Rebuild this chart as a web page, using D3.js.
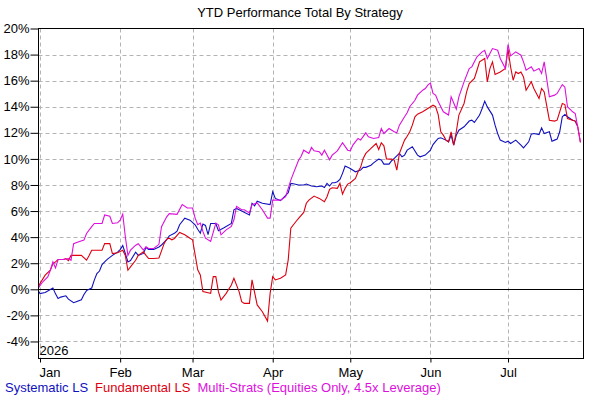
<!DOCTYPE html>
<html><head><meta charset="utf-8">
<script src="https://cdn.jsdelivr.net/npm/d3@7/dist/d3.min.js"></script>
<style>
body{margin:0;background:#fff;}
svg{display:block;font-family:"Liberation Sans",Arial,sans-serif;}
</style></head><body>
<svg id="c" width="600" height="400"></svg>
<script>
const title = "YTD Performance Total By Strategy";
const yearLabel = "2026";
const seriesNames = ["Systematic LS", "Fundamental LS", "Multi-Strats (Equities Only, 4.5x Leverage)"];
const seriesColors = ["#1010c0", "#dd0010", "#dd10dd"];
const yTicks = [-4,-2,0,2,4,6,8,10,12,14,16,18,20];
const monthTicks = ["2026-01-01","2026-02-01","2026-03-01","2026-04-01","2026-05-01","2026-06-01","2026-07-01"];
const monthLabels = ["Jan","Feb","Mar","Apr","May","Jun","Jul"];

const systematicLS = [
["2025-12-31",0],["2026-01-01",-0.33],["2026-01-03",-0.25],["2026-01-06",0.1],["2026-01-07",-0.35],["2026-01-08",-0.7],["2026-01-09",-0.6],["2026-01-11",-0.5],["2026-01-12",-0.75],["2026-01-14",-1.03],["2026-01-15",-0.95],["2026-01-17",-0.8],["2026-01-18",-0.4],["2026-01-19",-0.1],["2026-01-20",0],["2026-01-21",0.1],["2026-01-22",0.7],["2026-01-23",1.2],["2026-01-24",1.4],["2026-01-25",1.9],["2026-01-26",2.1],["2026-01-27",2.3],["2026-01-29",2.6],["2026-01-31",2.85],["2026-02-01",3.05],["2026-02-02",3.35],["2026-02-03",2.75],["2026-02-04",2.1],["2026-02-05",2.2],["2026-02-07",2.85],["2026-02-08",2.6],["2026-02-10",2.75],["2026-02-11",3.2],["2026-02-12",3.05],["2026-02-14",3.05],["2026-02-16",3.25],["2026-02-17",3.4],["2026-02-19",3.8],["2026-02-20",4.1],["2026-02-22",4.3],["2026-02-23",4.45],["2026-02-24",4.95],["2026-02-26",5.45],["2026-02-28",5.3],["2026-03-02",4.95],["2026-03-03",4.6],["2026-03-04",4.3],["2026-03-05",5.0],["2026-03-06",4.9],["2026-03-07",4.2],["2026-03-08",5.05],["2026-03-10",5.05],["2026-03-11",4.5],["2026-03-13",4.7],["2026-03-16",5.05],["2026-03-17",6.1],["2026-03-18",6.2],["2026-03-20",6.0],["2026-03-23",5.7],["2026-03-24",6.6],["2026-03-25",6.4],["2026-03-26",6.75],["2026-03-28",6.6],["2026-03-31",6.5],["2026-04-01",7.48],["2026-04-02",6.97],["2026-04-04",6.8],["2026-04-05",7.0],["2026-04-07",7.4],["2026-04-08",8.12],["2026-04-09",8.1],["2026-04-11",8.0],["2026-04-13",8.0],["2026-04-14",8.07],["2026-04-16",7.92],["2026-04-18",7.86],["2026-04-20",7.92],["2026-04-21",7.81],["2026-04-22",8.12],["2026-04-23",7.92],["2026-04-24",8.17],["2026-04-25",8.17],["2026-04-26",8.25],["2026-04-27",8.43],["2026-04-28",8.89],["2026-04-29",9.45],["2026-05-01",9.27],["2026-05-03",9.01],["2026-05-05",9.14],["2026-05-06",9.35],["2026-05-07",9.35],["2026-05-09",9.52],["2026-05-10",9.70],["2026-05-12",9.98],["2026-05-13",9.91],["2026-05-14",9.60],["2026-05-16",9.60],["2026-05-17",9.86],["2026-05-18",10.04],["2026-05-20",10.42],["2026-05-21",10.16],["2026-05-22",10.29],["2026-05-23",10.67],["2026-05-25",10.93],["2026-05-27",10.29],["2026-05-28",10.16],["2026-05-30",10.29],["2026-06-01",10.67],["2026-06-02",11.1],["2026-06-03",11.35],["2026-06-04",11.57],["2026-06-05",11.62],["2026-06-07",11.44],["2026-06-08",11.31],["2026-06-09",11.82],["2026-06-10",11.05],["2026-06-11",11.82],["2026-06-12",12.2],["2026-06-14",12.46],["2026-06-16",12.9],["2026-06-17",12.97],["2026-06-18",12.79],["2026-06-20",13.36],["2026-06-21",13.87],["2026-06-22",14.43],["2026-06-23",13.99],["2026-06-25",13.36],["2026-06-26",12.59],["2026-06-27",11.95],["2026-06-28",11.44],["2026-06-30",11.26],["2026-07-01",11.36],["2026-07-02",11.18],["2026-07-04",11.44],["2026-07-06",11.05],["2026-07-07",10.85],["2026-07-09",11.31],["2026-07-10",11.9],["2026-07-11",11.95],["2026-07-13",11.87],["2026-07-14",12.38],["2026-07-15",11.95],["2026-07-17",12.08],["2026-07-18",11.36],["2026-07-19",11.44],["2026-07-20",11.52],["2026-07-21",12.08],["2026-07-22",13.23],["2026-07-23",13.41],["2026-07-24",13.23],["2026-07-26",12.97],["2026-07-27",12.9],["2026-07-28",12.5]
];

const fundamentalLS = [
["2025-12-31",0],["2026-01-01",0.44],["2026-01-03",1.08],["2026-01-05",1.46],["2026-01-06",1.97],["2026-01-07",2.1],["2026-01-08",2.28],["2026-01-10",2.28],["2026-01-11",2.36],["2026-01-12",2.2],["2026-01-13",2.6],["2026-01-15",2.6],["2026-01-17",2.6],["2026-01-19",2.23],["2026-01-20",2.6],["2026-01-21",3.0],["2026-01-24",3.0],["2026-01-25",3.0],["2026-01-26",3.5],["2026-01-28",3.5],["2026-01-29",2.74],["2026-01-31",2.8],["2026-02-02",3.0],["2026-02-03",2.6],["2026-02-04",1.46],["2026-02-05",1.72],["2026-02-07",2.23],["2026-02-08",2.6],["2026-02-10",2.87],["2026-02-11",2.6],["2026-02-12",2.36],["2026-02-14",2.36],["2026-02-16",2.4],["2026-02-18",3.5],["2026-02-19",3.85],["2026-02-20",3.92],["2026-02-21",3.8],["2026-02-22",3.9],["2026-02-24",4.36],["2026-02-26",4.18],["2026-02-28",3.92],["2026-03-01",3.8],["2026-03-03",1.49],["2026-03-04",1.1],["2026-03-05",-0.18],["2026-03-07",-0.26],["2026-03-08",-0.31],["2026-03-09",0.97],["2026-03-10",0.97],["2026-03-11",-0.18],["2026-03-12",-0.82],["2026-03-14",-0.31],["2026-03-16",0.33],["2026-03-17",0.85],["2026-03-19",-0.18],["2026-03-20",-0.95],["2026-03-21",-1.08],["2026-03-23",-1.08],["2026-03-24",0.72],["2026-03-26",-1.2],["2026-03-28",-1.72],["2026-03-30",-2.44],["2026-03-31",-0.31],["2026-04-01",0.97],["2026-04-02",0.72],["2026-04-04",0.85],["2026-04-06",1.1],["2026-04-07",2.26],["2026-04-08",4.69],["2026-04-10",5.2],["2026-04-11",5.44],["2026-04-13",5.9],["2026-04-14",6.6],["2026-04-15",6.84],["2026-04-17",7.15],["2026-04-18",7.05],["2026-04-19",6.97],["2026-04-21",6.71],["2026-04-22",7.10],["2026-04-23",7.66],["2026-04-24",7.79],["2026-04-26",7.74],["2026-04-27",8.12],["2026-04-28",7.30],["2026-04-29",7.74],["2026-04-30",8.07],["2026-05-01",8.17],["2026-05-03",8.50],["2026-05-04",9.01],["2026-05-05",9.35],["2026-05-06",10.04],["2026-05-07",10.42],["2026-05-09",10.80],["2026-05-11",11.18],["2026-05-12",10.72],["2026-05-13",11.24],["2026-05-14",11.0],["2026-05-15",10.0],["2026-05-17",9.98],["2026-05-18",9.91],["2026-05-19",9.14],["2026-05-20",10.42],["2026-05-22",11.44],["2026-05-23",11.74],["2026-05-24",12.08],["2026-05-25",12.59],["2026-05-26",13.23],["2026-05-27",13.43],["2026-05-29",13.61],["2026-05-31",13.87],["2026-06-02",14.12],["2026-06-03",14.0],["2026-06-04",13.4],["2026-06-05",12.08],["2026-06-06",11.82],["2026-06-07",11.44],["2026-06-08",11.31],["2026-06-09",12.08],["2026-06-10",11.05],["2026-06-11",12.08],["2026-06-12",13.36],["2026-06-14",14.25],["2026-06-15",15.14],["2026-06-16",15.78],["2026-06-18",16.17],["2026-06-19",16.80],["2026-06-20",17.44],["2026-06-22",17.70],["2026-06-23",15.9],["2026-06-24",16.93],["2026-06-25",17.44],["2026-06-26",16.47],["2026-06-28",16.67],["2026-06-30",16.93],["2026-07-01",18.41],["2026-07-02",17.06],["2026-07-03",16.03],["2026-07-04",16.67],["2026-07-05",16.55],["2026-07-06",16.67],["2026-07-07",16.29],["2026-07-08",15.27],["2026-07-10",15.91],["2026-07-11",15.4],["2026-07-13",14.63],["2026-07-14",15.40],["2026-07-15",15.14],["2026-07-17",12.97],["2026-07-19",12.90],["2026-07-20",12.97],["2026-07-22",14.25],["2026-07-23",14.17],["2026-07-24",13.10],["2026-07-26",12.97],["2026-07-27",12.90],["2026-07-28",12.46],["2026-07-29",11.26]
];

const multiStrats = [
["2025-12-31",0],["2026-01-02",0.56],["2026-01-04",0.95],["2026-01-05",1.46],["2026-01-06",2.1],["2026-01-07",1.64],["2026-01-08",2.28],["2026-01-10",2.28],["2026-01-12",2.36],["2026-01-13",2.23],["2026-01-14",3.5],["2026-01-16",3.64],["2026-01-18",3.77],["2026-01-19",4.28],["2026-01-21",4.8],["2026-01-22",5.05],["2026-01-24",5.05],["2026-01-25",5.05],["2026-01-26",5.7],["2026-01-28",5.6],["2026-01-29",5.05],["2026-01-31",5.1],["2026-02-01",5.3],["2026-02-02",5.77],["2026-02-03",4.03],["2026-02-04",2.6],["2026-02-05",3.0],["2026-02-07",3.38],["2026-02-08",3.5],["2026-02-10",3.0],["2026-02-11",3.26],["2026-02-12",3.13],["2026-02-14",3.13],["2026-02-16",3.45],["2026-02-17",4.8],["2026-02-19",5.56],["2026-02-20",5.8],["2026-02-23",5.75],["2026-02-25",6.5],["2026-02-27",6.23],["2026-03-01",6.23],["2026-03-02",5.46],["2026-03-03",4.95],["2026-03-04",5.08],["2026-03-05",4.44],["2026-03-06",3.92],["2026-03-08",3.67],["2026-03-10",5.08],["2026-03-11",4.95],["2026-03-12",4.18],["2026-03-14",4.56],["2026-03-16",4.82],["2026-03-17",5.33],["2026-03-18",6.36],["2026-03-20",6.1],["2026-03-21",6.1],["2026-03-23",5.85],["2026-03-24",6.49],["2026-03-26",6.62],["2026-03-28",6.1],["2026-03-30",5.46],["2026-03-31",5.46],["2026-04-01",6.84],["2026-04-04",6.84],["2026-04-06",7.1],["2026-04-08",8.37],["2026-04-09",8.89],["2026-04-11",9.9],["2026-04-12",10.2],["2026-04-13",10.67],["2026-04-15",10.42],["2026-04-16",10.88],["2026-04-17",10.62],["2026-04-19",10.55],["2026-04-20",10.29],["2026-04-21",10.67],["2026-04-23",9.93],["2026-04-24",10.29],["2026-04-26",10.62],["2026-04-28",11.24],["2026-04-30",10.67],["2026-05-01",10.62],["2026-05-02",11.06],["2026-05-04",11.57],["2026-05-05",11.44],["2026-05-07",12.0],["2026-05-08",11.69],["2026-05-10",11.57],["2026-05-12",11.64],["2026-05-13",12.33],["2026-05-14",11.95],["2026-05-16",12.33],["2026-05-18",12.08],["2026-05-19",12.0],["2026-05-20",12.59],["2026-05-22",13.23],["2026-05-23",13.54],["2026-05-24",14.0],["2026-05-26",14.5],["2026-05-27",14.89],["2026-05-29",15.27],["2026-05-30",15.40],["2026-05-31",15.66],["2026-06-01",15.83],["2026-06-02",15.02],["2026-06-03",14.89],["2026-06-04",14.4],["2026-06-06",13.61],["2026-06-08",13.36],["2026-06-09",14.76],["2026-06-11",13.82],["2026-06-12",14.76],["2026-06-14",15.91],["2026-06-16",16.93],["2026-06-17",17.06],["2026-06-19",17.83],["2026-06-21",18.21],["2026-06-22",18.33],["2026-06-23",17.70],["2026-06-24",18.08],["2026-06-25",18.46],["2026-06-27",18.33],["2026-06-28",17.70],["2026-06-30",16.93],["2026-07-01",18.77],["2026-07-02",17.90],["2026-07-04",18.21],["2026-07-06",17.95],["2026-07-07",17.44],["2026-07-08",16.80],["2026-07-10",17.06],["2026-07-11",16.73],["2026-07-13",16.93],["2026-07-14",16.55],["2026-07-15",17.44],["2026-07-17",14.76],["2026-07-19",14.89],["2026-07-20",15.02],["2026-07-22",15.70],["2026-07-23",15.5],["2026-07-24",14.0],["2026-07-26",13.61],["2026-07-27",13.48],["2026-07-29",11.3]
];

const parse = d3.utcParse("%Y-%m-%d");
const allSeries = [systematicLS, fundamentalLS, multiStrats].map(s => s.map(([d, v]) => ({date: parse(d), value: v})));

const svg = d3.select("#c");
const L = 38.5, R = 583.5, T = 28.5, B = 358.5;

const x = d3.scaleUtc().domain([parse(monthTicks[0]), parse(monthTicks[6])]).range([40, 508]);
const y = d3.scaleLinear().domain([0, 20]).range([289.3, 28.5]);

svg.append("defs").append("clipPath").attr("id","pc")
  .append("rect").attr("x", L).attr("y", T).attr("width", R - L).attr("height", B - T);

// grid
const grid = svg.append("g").attr("stroke", "#b4b4b4").attr("stroke-dasharray", "4,3").attr("stroke-width", 1);
grid.selectAll("line.h").data(yTicks.filter(t => t !== 0 && t !== 20)).join("line")
  .attr("x1", L).attr("x2", R).attr("y1", d => Math.round(y(d)) + 0.5).attr("y2", d => Math.round(y(d)) + 0.5);
grid.selectAll("line.v").data(monthTicks.map(parse)).join("line")
  .attr("y1", T).attr("y2", B).attr("x1", d => Math.round(x(d)) + 0.5).attr("x2", d => Math.round(x(d)) + 0.5);

// zero line
svg.append("line").attr("x1", L).attr("x2", R)
  .attr("y1", Math.round(y(0)) + 0.5).attr("y2", Math.round(y(0)) + 0.5)
  .attr("stroke", "#000").attr("stroke-width", 1);

// series lines
const line = d3.line().x(d => x(d.date)).y(d => y(d.value));
svg.append("g").attr("clip-path", "url(#pc)")
  .selectAll("path").data(allSeries).join("path")
  .attr("d", line).attr("fill", "none")
  .attr("stroke", (d, i) => seriesColors[i]).attr("stroke-width", 1.1)
  .attr("stroke-linejoin", "miter");

// frame
svg.append("rect").attr("x", L).attr("y", T).attr("width", R - L).attr("height", B - T)
  .attr("fill", "none").attr("stroke", "#000").attr("stroke-width", 1);

// y axis
const yAxis = svg.append("g").attr("transform", `translate(${L},0)`)
  .call(d3.axisLeft(y).tickValues(yTicks).tickSize(8).tickPadding(1).tickFormat(d => d + "%"));
yAxis.select(".domain").remove();
yAxis.selectAll("text").attr("font-size", 13).attr("font-family", '"Liberation Sans",Arial,sans-serif').attr("fill", "#000");
yAxis.selectAll("line").attr("stroke", "#000");

// x axis
const xAxis = svg.append("g").attr("transform", `translate(0,${B})`)
  .call(d3.axisBottom(x).tickValues(monthTicks.map(parse)).tickSize(4).tickPadding(5)
    .tickFormat((d, i) => monthLabels[i]));
xAxis.select(".domain").remove();
xAxis.selectAll("text").attr("font-size", 13).attr("font-family", '"Liberation Sans",Arial,sans-serif').attr("fill", "#000");
xAxis.selectAll("line").attr("stroke", "#000");
xAxis.selectAll(".tick").filter((d, i) => i === 0).select("text")
  .attr("text-anchor", "start").attr("x", L - x(parse(monthTicks[0])) + 0.5);

// year label
svg.append("text").attr("x", L + 1).attr("y", 355).attr("font-size", 13).text(yearLabel);

// title
svg.append("text").attr("x", 300).attr("y", 17).attr("text-anchor", "middle").attr("font-size", 13).text(title);

// legend
let lx = 5;
seriesNames.forEach((n, i) => {
  const t = svg.append("text").attr("x", lx).attr("y", 392).attr("font-size", 13)
    .attr("fill", seriesColors[i]).text(n);
  lx += t.node().getComputedTextLength() + 7;
});
</script>
</body></html>
